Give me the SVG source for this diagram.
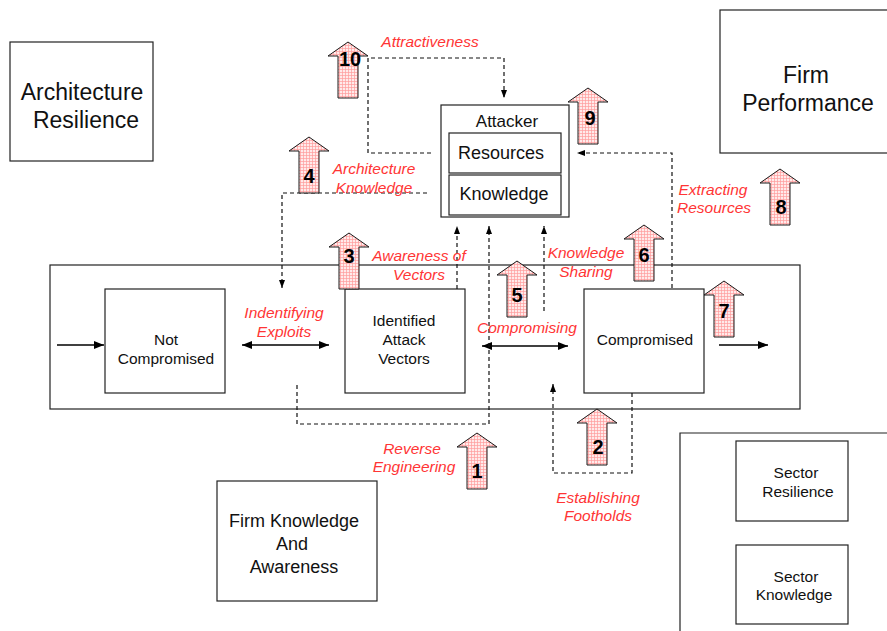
<svg xmlns="http://www.w3.org/2000/svg" width="887" height="631" viewBox="0 0 887 631">
  <style>
    .box { fill: #ffffff; stroke: #222222; stroke-width: 1.2; }
    .frame { fill: none; stroke: #222222; stroke-width: 1.2; }
    .t { font-family: "Liberation Sans", Arial, sans-serif; fill: #111111; text-anchor: middle; }
    .lbl { font-family: "Liberation Sans", Arial, sans-serif; font-style: italic; fill: #ff3535; text-anchor: middle; font-size: 15.5px; }
    .num { font-family: "Liberation Sans", Arial, sans-serif; font-weight: bold; fill: #000000; text-anchor: middle; font-size: 20px; }
    .solid { fill: none; stroke: #000000; stroke-width: 1.3; }
    .dash { fill: none; stroke: #111111; stroke-width: 1.2; stroke-dasharray: 4 3; }
    .blk { fill: url(#grid); stroke: #1a1a1a; stroke-width: 1; }
  </style>
  <defs>
    <pattern id="grid" width="3" height="3" patternUnits="userSpaceOnUse">
      <rect width="3" height="3" fill="#ffeaea"/>
      <path d="M0,0.5H3M0.5,0V3" stroke="#ff9c9c" stroke-width="0.7"/>
    </pattern>
    <marker id="ah" viewBox="0 0 10 8" refX="10" refY="4" markerWidth="10" markerHeight="8" markerUnits="userSpaceOnUse" orient="auto-start-reverse">
      <path d="M0,0 L10,4 L0,8 Z" fill="#000000"/>
    </marker>
    <marker id="dh" viewBox="0 0 8 6" refX="8" refY="3" markerWidth="8" markerHeight="6" markerUnits="userSpaceOnUse" orient="auto">
      <path d="M0,0 L8,3 L0,6 Z" fill="#000000"/>
    </marker>
    <!-- upward block arrow, tip at origin -->
    <path id="up" d="M0,0 L20,14 L10,14 L10,56 L-10,56 L-10,14 L-20,14 Z"/>
  </defs>

  <rect width="887" height="631" fill="#ffffff"/>

  <!-- outer frames -->
  <g id="lifecycle">
    <rect class="frame" x="50" y="265" width="750" height="144"/>
  </g>
  <g id="sector">
    <path class="frame" d="M887,433 H680 V631"/>
  </g>

  <!-- nodes -->
  <g id="architecture-resilience">
    <rect class="box" x="10" y="42" width="143" height="119"/>
    <text class="t" x="82" y="100" font-size="23">Architecture</text>
    <text class="t" x="86" y="128" font-size="23">Resilience</text>
  </g>
  <g id="firm-performance">
    <rect class="box" x="720" y="10" width="180" height="143"/>
    <text class="t" x="806" y="83" font-size="23">Firm</text>
    <text class="t" x="808" y="111" font-size="23">Performance</text>
  </g>
  <g id="attacker">
    <rect class="box" x="441" y="105" width="128" height="112"/>
    <text class="t" x="507" y="127" font-size="17">Attacker</text>
    <rect class="box" x="449" y="133" width="112" height="40"/>
    <text class="t" x="501" y="159" font-size="18">Resources</text>
    <rect class="box" x="449" y="175" width="112" height="40"/>
    <text class="t" x="504" y="200" font-size="18">Knowledge</text>
  </g>
  <g id="not-compromised">
    <rect class="box" x="105" y="289" width="120" height="104"/>
    <text class="t" x="166" y="345" font-size="15.5">Not</text>
    <text class="t" x="166" y="364" font-size="15.5">Compromised</text>
  </g>
  <g id="identified-attack-vectors">
    <rect class="box" x="345" y="289" width="120" height="104"/>
    <text class="t" x="404" y="326" font-size="15.5">Identified</text>
    <text class="t" x="404" y="345" font-size="15.5">Attack</text>
    <text class="t" x="404" y="364" font-size="15.5">Vectors</text>
  </g>
  <g id="compromised">
    <rect class="box" x="584" y="289" width="120" height="104"/>
    <text class="t" x="645" y="345" font-size="15.5">Compromised</text>
  </g>
  <g id="firm-knowledge">
    <rect class="box" x="217" y="481" width="160" height="120"/>
    <text class="t" x="294" y="527" font-size="18">Firm Knowledge</text>
    <text class="t" x="292" y="550" font-size="18">And</text>
    <text class="t" x="294" y="573" font-size="18">Awareness</text>
  </g>
  <g id="sector-resilience">
    <rect class="box" x="736" y="441" width="112" height="80"/>
    <text class="t" x="796" y="478" font-size="15.5">Sector</text>
    <text class="t" x="798" y="497" font-size="15.5">Resilience</text>
  </g>
  <g id="sector-knowledge">
    <rect class="box" x="736" y="545" width="112" height="79"/>
    <text class="t" x="796" y="582" font-size="15.5">Sector</text>
    <text class="t" x="794" y="600" font-size="15.5">Knowledge</text>
  </g>

  <!-- connectors -->
  <g id="connectors">
    <line class="solid" x1="57" y1="345" x2="104" y2="345" marker-end="url(#ah)"/>
    <line class="solid" x1="242" y1="345" x2="329" y2="345" marker-start="url(#ah)" marker-end="url(#ah)"/>
    <line class="solid" x1="482" y1="346" x2="568" y2="346" marker-start="url(#ah)" marker-end="url(#ah)"/>
    <line class="solid" x1="719" y1="345" x2="768" y2="345" marker-end="url(#ah)"/>

    <path class="dash" d="M431,153 H368 V58 H504 V98" marker-end="url(#dh)"/>
    <path class="dash" d="M427,193 H282 V288" marker-end="url(#dh)"/>
    <path class="dash" d="M457,289 V226" marker-end="url(#dh)"/>
    <path class="dash" d="M297,385 V424 H489 V226" marker-end="url(#dh)"/>
    <path class="dash" d="M544,311 V226" marker-end="url(#dh)"/>
    <path class="dash" d="M632,393 V473 H553 V384" marker-end="url(#dh)"/>
    <path class="dash" d="M672,288 V153 H577" marker-end="url(#dh)"/>
  </g>

  <!-- process labels -->
  <g id="labels">
    <text class="lbl" x="430" y="47">Attractiveness</text>
    <text class="lbl" x="374" y="174">Architecture</text>
    <text class="lbl" x="374" y="193">Knowledge</text>
    <text class="lbl" x="419" y="261">Awareness of</text>
    <text class="lbl" x="419" y="280">Vectors</text>
    <text class="lbl" x="586" y="258">Knowledge</text>
    <text class="lbl" x="586" y="277">Sharing</text>
    <text class="lbl" x="527" y="333">Compromising</text>
    <text class="lbl" x="284" y="318">Indentifying</text>
    <text class="lbl" x="284" y="337">Exploits</text>
    <text class="lbl" x="412" y="454">Reverse</text>
    <text class="lbl" x="414" y="472">Engineering</text>
    <text class="lbl" x="598" y="503">Establishing</text>
    <text class="lbl" x="598" y="521">Footholds</text>
    <text class="lbl" x="713" y="195">Extracting</text>
    <text class="lbl" x="714" y="213">Resources</text>
  </g>

  <!-- numbered block arrows -->
  <g id="steps">
    <use href="#up" class="blk" x="348" y="42"/>
    <text class="num" x="350" y="66">10</text>
    <use href="#up" class="blk" x="309" y="137"/>
    <text class="num" x="309" y="183">4</text>
    <use href="#up" class="blk" x="349" y="233"/>
    <text class="num" x="349" y="263">3</text>
    <use href="#up" class="blk" x="517" y="261"/>
    <text class="num" x="517" y="302">5</text>
    <use href="#up" class="blk" x="644" y="225"/>
    <text class="num" x="644" y="262">6</text>
    <use href="#up" class="blk" x="780" y="169"/>
    <text class="num" x="781" y="214">8</text>
    <use href="#up" class="blk" x="724" y="281"/>
    <text class="num" x="724" y="318">7</text>
    <use href="#up" class="blk" x="588" y="88"/>
    <text class="num" x="590" y="125">9</text>
    <use href="#up" class="blk" x="477" y="433"/>
    <text class="num" x="477" y="478">1</text>
    <use href="#up" class="blk" x="597" y="409"/>
    <text class="num" x="598" y="454">2</text>
  </g>
</svg>
